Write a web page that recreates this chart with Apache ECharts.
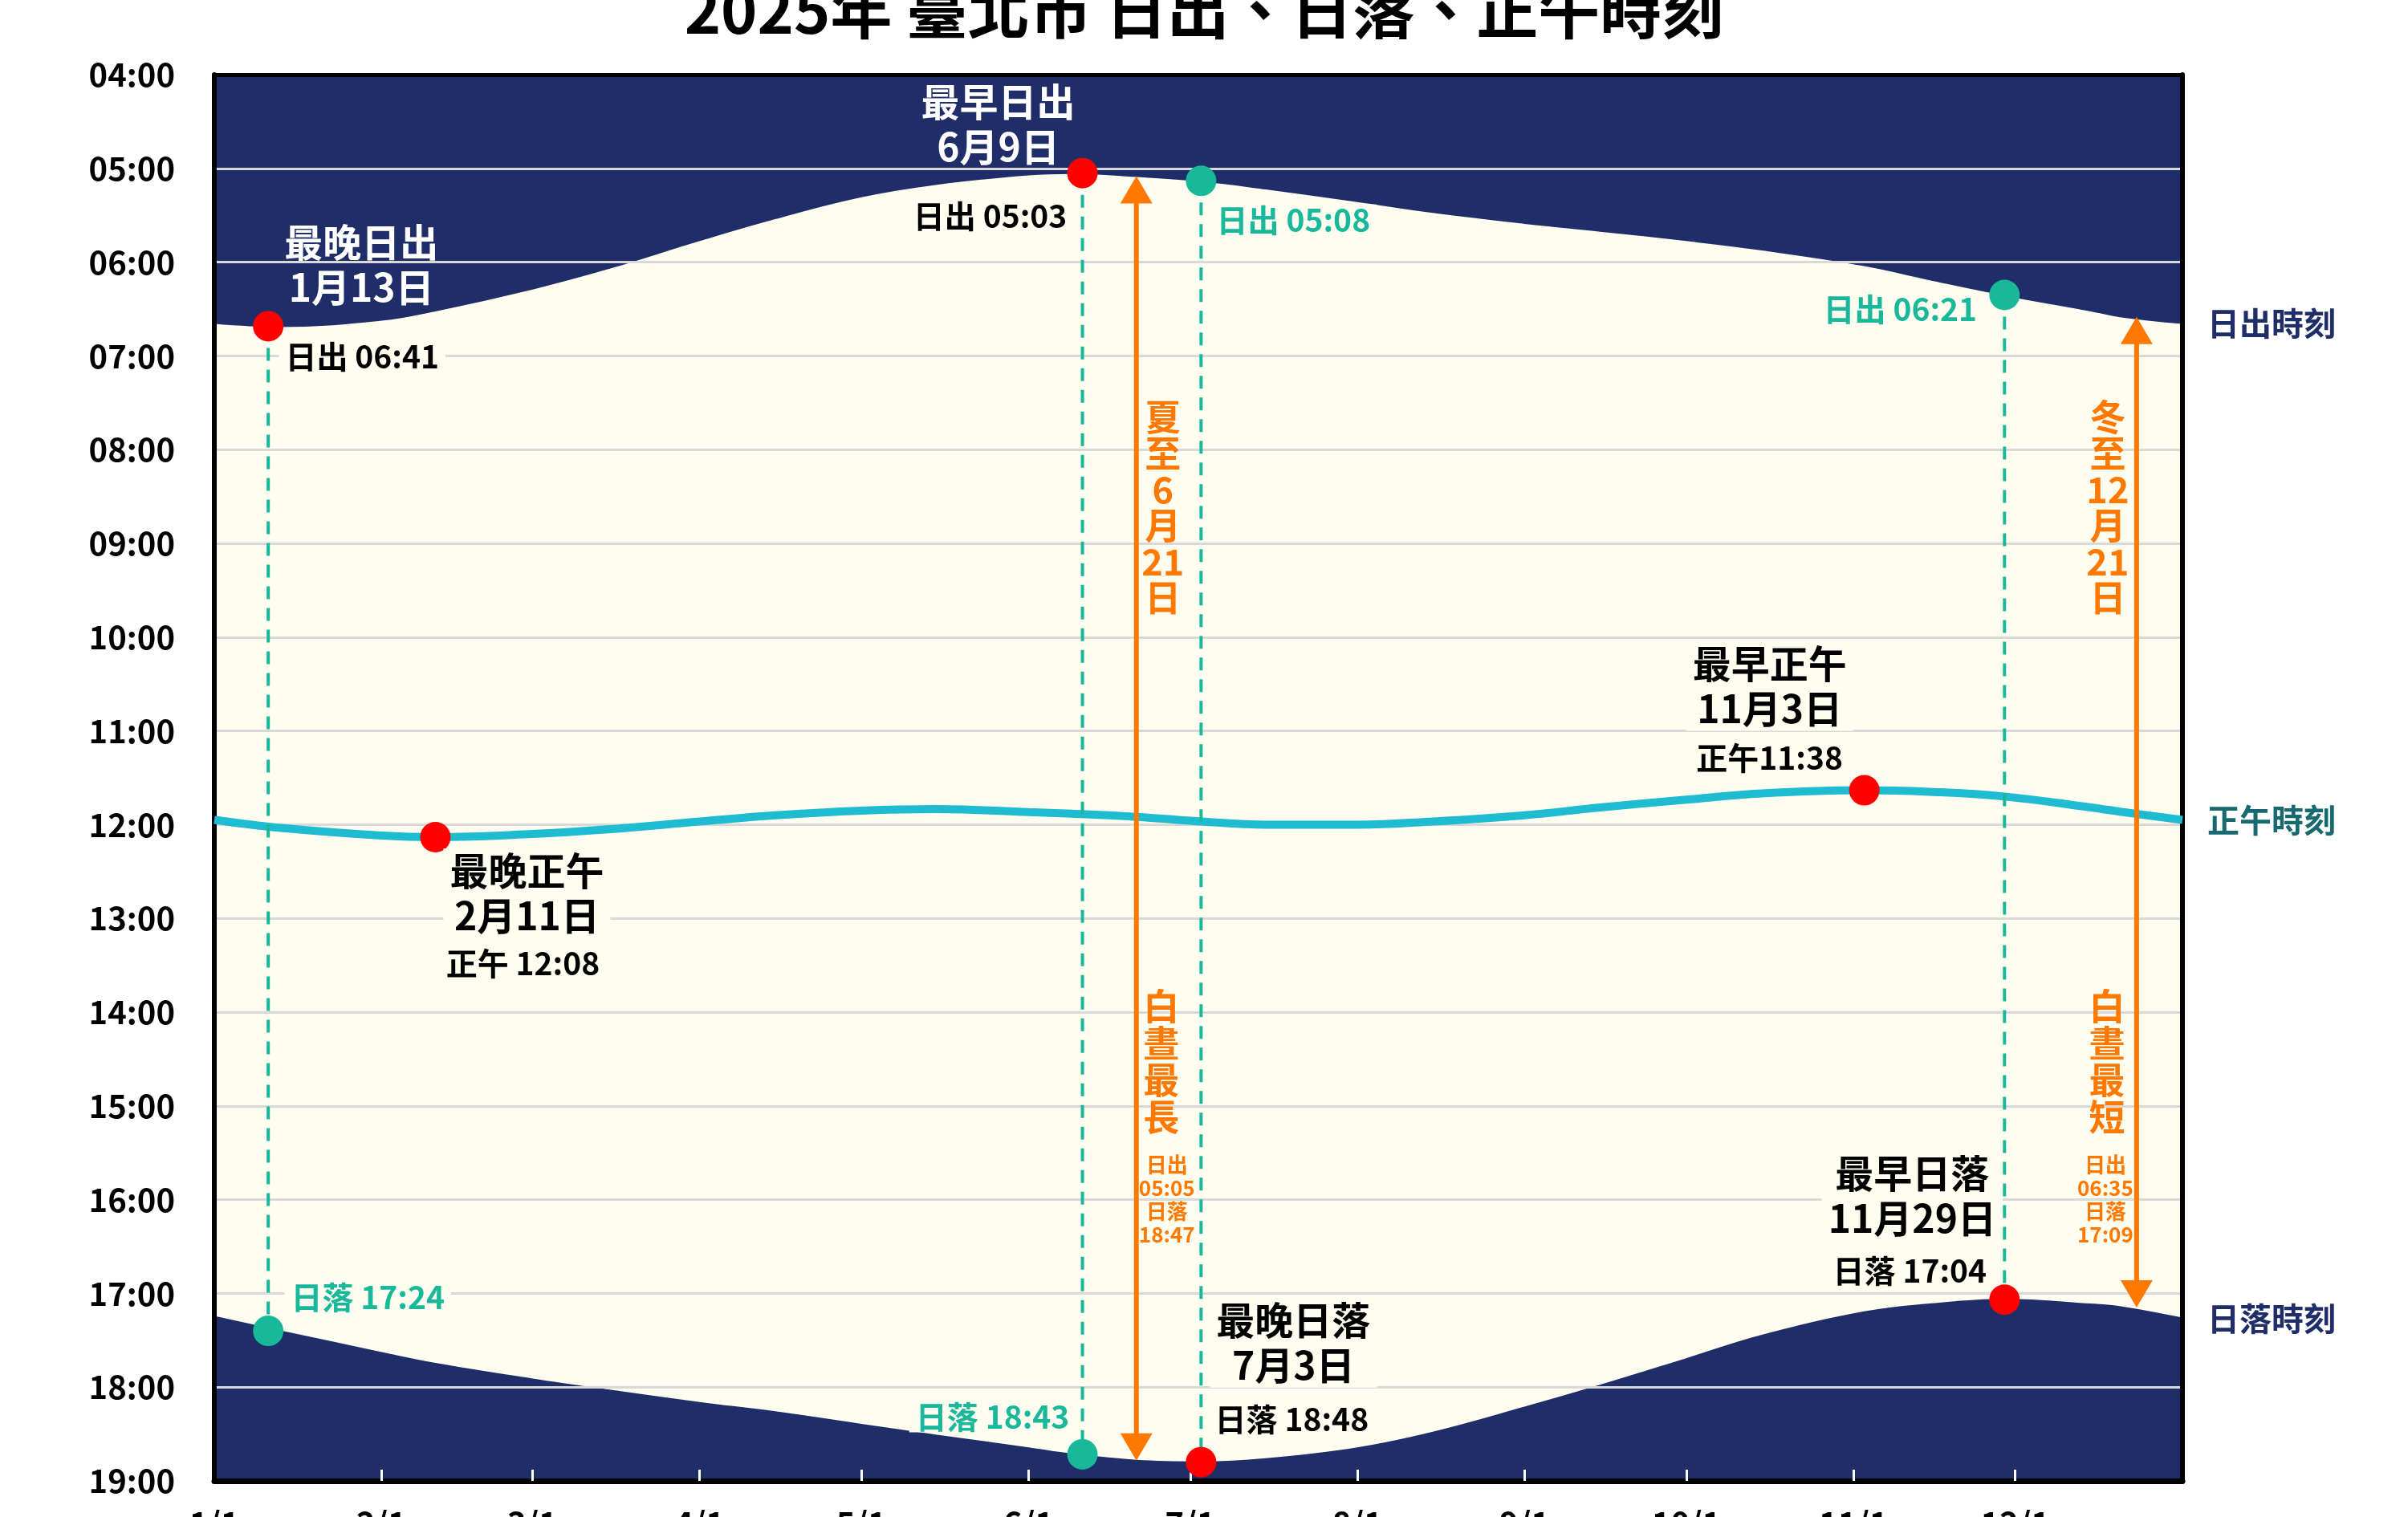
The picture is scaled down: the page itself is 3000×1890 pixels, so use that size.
<!DOCTYPE html>
<html><head><meta charset="utf-8">
<script src="https://cdn.jsdelivr.net/npm/echarts@6/dist/echarts.min.js"></script>
<style>html,body{margin:0;padding:0;background:#fff;overflow:hidden}#c{width:3000px;height:1890px}</style>
</head><body><div id="c"></div>
<script>
// ---- data (day index: Jan 1 = 0) ----
const dayIndex = [0,12,31,41,59,73,90,104,120,134,151,159,171,183,195,212,226,243,257,273,287,306,318,332,348,354,365];
const sunrise = ['06:39','06:41','06:37','06:31','06:17','06:04','05:46','05:32','05:18','05:10','05:04','05:03','05:05','05:08','05:13','05:21','05:28','05:35','05:40','05:46','05:52','06:02','06:11','06:21','06:31','06:35','06:39'];
const sunset = ['17:15','17:24','17:38','17:45','17:55','18:02','18:10','18:16','18:24','18:31','18:39','18:43','18:47','18:48','18:46','18:39','18:29','18:13','17:59','17:42','17:27','17:12','17:07','17:04','17:07','17:09','17:16'];
const noon = ['11:57','12:02','12:07','12:08','12:06','12:03','11:58','11:54','11:51','11:50','11:52','11:53','11:55','11:58','12:00','12:00','11:58','11:54','11:49','11:44','11:40','11:38','11:39','11:42','11:49','11:52','11:57'];
const tickDays = [0,31,59,90,120,151,181,212,243,273,304,334];
const tickLabels = ['1/1','2/1','3/1','4/1','5/1','6/1','7/1','8/1','9/1','10/1','11/1','12/1'];
const redDots = [[10,'06:41'],[161,'05:03'],[183,'18:48'],[332,'17:04'],[41,'12:08'],[306,'11:38']];
const tealDots = [[183,'05:08'],[332,'06:21'],[10,'17:24'],[161,'18:43']];
const dashedLines = [[10,'06:41','17:24'],[161,'05:03','18:43'],[183,'05:08','18:48'],[332,'06:21','17:04']];
const arrows = [[171,'05:05','18:47'],[356.5,'06:35','17:09']];

// ---- styles ----
const FONT = '"Noto Sans CJK TC","Noto Sans CJK SC",sans-serif';
const NAVY = '#1F2D69', CREAM = '#FEFDF0', TEAL = '#1AB89B', ORANGE = '#FF7800', NOON = '#1FBBD0', RED = '#FF0000';
const toH = s => { const [h, m] = s.split(':').map(Number); return h + m / 60; };

const notes = [
  {at:[10,'06:41'], dx:116, dy:-77, text:'最晚日出\n1月13日', c:'#fff', fs:48, lh:56},
  {at:[10,'06:41'], dx:117, dy:38, text:'日出 06:41', c:'#000', fs:39, bg:true},
  {at:[161,'05:03'], dx:-105, dy:-61, text:'最早日出\n6月9日', c:'#fff', fs:48, lh:56},
  {at:[161,'05:03'], dx:-115, dy:54, text:'日出 05:03', c:'#000', fs:39, bg:true},
  {at:[183,'05:08'], dx:115, dy:49, text:'日出 05:08', c:TEAL, fs:39, bg:true},
  {at:[332,'06:21'], dx:-130, dy:18, text:'日出 06:21', c:TEAL, fs:39, bg:true},
  {at:[10,'17:24'], dx:124, dy:-42, text:'日落 17:24', c:TEAL, fs:39, bg:true},
  {at:[161,'18:43'], dx:-112, dy:-47, text:'日落 18:43', c:TEAL, fs:39, bg:true},
  {at:[183,'18:48'], dx:115, dy:-149, text:'最晚日落\n7月3日', c:'#000', fs:48, lh:56, bg:true},
  {at:[183,'18:48'], dx:113, dy:-53, text:'日落 18:48', c:'#000', fs:39, bg:true},
  {at:[332,'17:04'], dx:-115, dy:-129, text:'最早日落\n11月29日', c:'#000', fs:48, lh:56, bg:true},
  {at:[332,'17:04'], dx:-118, dy:-36, text:'日落 17:04', c:'#000', fs:39, bg:true},
  {at:[41,'12:08'], dx:114, dy:70, text:'最晚正午\n2月11日', c:'#000', fs:48, lh:56, bg:true},
  {at:[41,'12:08'], dx:109, dy:157, text:'正午 12:08', c:'#000', fs:39, bg:true},
  {at:[306,'11:38'], dx:-118, dy:-130, text:'最早正午\n11月3日', c:'#000', fs:48, lh:56, bg:true},
  {at:[306,'11:38'], dx:-118, dy:-40, text:'正午11:38', c:'#000', fs:39, bg:true},
  {at:[171,'08:37'], dx:33, dy:0, text:'夏\n至\n6\n月\n21\n日', c:ORANGE, fs:45, lh:45},
  {at:[171,'14:32'], dx:31, dy:0, text:'白\n晝\n最\n長', c:ORANGE, fs:45, lh:46},
  {at:[171,'16:00'], dx:38, dy:0, text:'日出\n05:05\n日落\n18:47', c:ORANGE, fs:26, lh:29},
  {at:[356.5,'08:37'], dx:-36, dy:0, text:'冬\n至\n12\n月\n21\n日', c:ORANGE, fs:45, lh:45},
  {at:[356.5,'14:32'], dx:-37, dy:0, text:'白\n晝\n最\n短', c:ORANGE, fs:45, lh:46},
  {at:[356.5,'16:00'], dx:-39, dy:0, text:'日出\n06:35\n日落\n17:09', c:ORANGE, fs:26, lh:29}
];

const chart = echarts.init(document.getElementById('c'));
const endLbl = (txt, color) => ({show:true, formatter:txt, color:color, fontSize:40, fontWeight:'bold', fontFamily:FONT, distance:31});

chart.setOption({
  animation:false,
  backgroundColor:'#fff',
  title:{text:'2025年 臺北市 日出、日落、正午時刻', left:'center', top:-31,
    textStyle:{fontSize:77, fontWeight:'bold', color:'#000', fontFamily:FONT}},
  grid:{left:267, right:281, top:93, bottom:45, show:true, backgroundColor:CREAM, borderWidth:0,
    containLabel:false, outerBoundsMode:'none'},
  xAxis:[{type:'value', min:0, max:365, position:'bottom', z:3,
      axisLine:{show:true, onZero:false, lineStyle:{color:'#000', width:7}},
      axisTick:{show:true, inside:true, length:14, customValues:tickDays.slice(1), lineStyle:{color:'#fff', width:3}},
      axisLabel:{customValues:tickDays, formatter:v => tickLabels[tickDays.indexOf(v)], fontSize:40, fontWeight:'bold', color:'#000', fontFamily:FONT, margin:33},
      splitLine:{show:false}},
    {type:'value', min:0, max:365, position:'top', z:3,
      axisLine:{show:true, onZero:false, lineStyle:{color:'#000', width:5}},
      axisTick:{show:false}, axisLabel:{show:false}, splitLine:{show:false}}],
  yAxis:[{type:'value', inverse:true, min:4, max:19, interval:1, position:'left', z:3,
      axisLine:{show:true, onZero:false, lineStyle:{color:'#000', width:6}},
      axisTick:{show:false},
      axisLabel:{formatter:v => (v < 10 ? '0' : '') + v + ':00', color:'#000', fontSize:40, fontWeight:'bold', fontFamily:FONT, margin:49},
      splitLine:{show:true, lineStyle:{color:'#D9D9D9', width:3}}},
    {type:'value', inverse:true, min:4, max:19, interval:1, position:'right', z:3,
      axisLine:{show:true, onZero:false, lineStyle:{color:'#000', width:6}},
      axisTick:{show:false}, axisLabel:{show:false}, splitLine:{show:false}}],
  series:[
    {name:'日出', type:'line', z:2, smooth:0.4, symbol:'none',
      data:dayIndex.map((d, i) => [d, toH(sunrise[i])]),
      lineStyle:{color:NAVY, width:2}, areaStyle:{color:NAVY, opacity:1, origin:'start'},
      endLabel:endLbl('日出時刻', NAVY)},
    {name:'日落', type:'line', z:2, smooth:0.4, symbol:'none',
      data:dayIndex.map((d, i) => [d, toH(sunset[i])]),
      lineStyle:{color:NAVY, width:2}, areaStyle:{color:NAVY, opacity:1, origin:'end'},
      endLabel:endLbl('日落時刻', NAVY)},
    {name:'正午', type:'line', z:4, smooth:0.4, symbol:'none',
      data:dayIndex.map((d, i) => [d, toH(noon[i])]),
      lineStyle:{color:NOON, width:10},
      endLabel:endLbl('正午時刻', '#186A70')},
    {type:'custom', z:5, data:dashedLines.map(r => [r[0], toH(r[1]), toH(r[2])]),
      renderItem:(p, api) => {
        const a = api.coord([api.value(0), api.value(1)]), b = api.coord([api.value(0), api.value(2)]);
        return {type:'line', shape:{x1:a[0], y1:a[1], x2:b[0], y2:b[1]}, style:{stroke:TEAL, lineWidth:4, lineDash:[16, 11]}};
      }},
    {type:'custom', z:6, data:arrows.map(r => [r[0], toH(r[1]), toH(r[2])]),
      renderItem:(p, api) => {
        const a = api.coord([api.value(0), api.value(1)]), b = api.coord([api.value(0), api.value(2)]);
        const hw = 20, hl = 34;
        return {type:'group', children:[
          {type:'line', shape:{x1:a[0], y1:a[1] + hl - 2, x2:b[0], y2:b[1] - hl + 2}, style:{stroke:ORANGE, lineWidth:6}},
          {type:'polygon', shape:{points:[[a[0], a[1]], [a[0] - hw, a[1] + hl], [a[0] + hw, a[1] + hl]]}, style:{fill:ORANGE}},
          {type:'polygon', shape:{points:[[b[0], b[1]], [b[0] - hw, b[1] - hl], [b[0] + hw, b[1] - hl]]}, style:{fill:ORANGE}}
        ]};
      }},
    {type:'scatter', z:7, symbolSize:38, itemStyle:{color:RED, opacity:1},
      data:redDots.map(r => [r[0], toH(r[1])])},
    {type:'scatter', z:7, symbolSize:38, itemStyle:{color:TEAL, opacity:1},
      data:tealDots.map(r => [r[0], toH(r[1])])},
    {type:'custom', z:8, data:notes.map(n => [n.at[0], toH(n.at[1])]),
      renderItem:(p, api) => {
        const n = notes[p.dataIndex];
        const c = api.coord([api.value(0), api.value(1)]);
        const style = {text:n.text, fill:n.c, fontSize:n.fs, fontWeight:'bold', fontFamily:FONT,
          align:'center', verticalAlign:'middle'};
        if (n.lh) style.lineHeight = n.lh;
        if (n.bg) { style.backgroundColor = CREAM; style.padding = [0, 8]; }
        return {type:'text', x:c[0] + n.dx, y:c[1] + n.dy, style:style};
      }}
  ]
});
</script></body></html>
